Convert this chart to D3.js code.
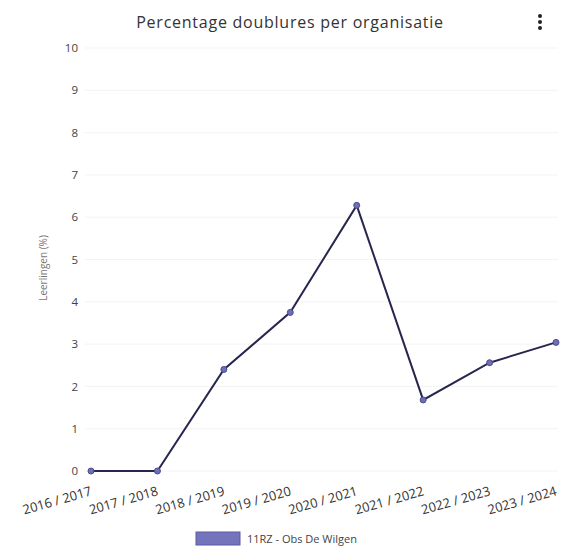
<!DOCTYPE html>
<html><head><meta charset="utf-8">
<script src="https://cdn.jsdelivr.net/npm/d3@7"></script>
<style>body{margin:0;background:#fff;font-family:"Open Sans",sans-serif;}</style>
</head><body><svg id="c" width="568" height="546"></svg>
<script>
const categories = ["2016 / 2017","2017 / 2018","2018 / 2019","2019 / 2020","2020 / 2021","2021 / 2022","2022 / 2023","2023 / 2024"];
const values = [0, 0, 2.4, 3.75, 6.28, 1.68, 2.56, 3.04];
const yTicks = [0,1,2,3,4,5,6,7,8,9,10];
const seriesName = "11RZ - Obs De Wilgen";
const title = "Percentage doublures per organisatie";
const yTitle = "Leerlingen (%)";

const svg = d3.select("#c");
const x = d3.scalePoint().domain(categories).range([91, 556]);
const y = d3.scaleLinear().domain([0, 10]).range([471, 48]);

// gridlines
svg.append("g").selectAll("line").data(yTicks).join("line")
  .attr("x1", 85).attr("x2", 558).attr("y1", d => y(d)).attr("y2", d => y(d))
  .attr("stroke", "#f3f3f3").attr("stroke-width", 1);

// y axis
const yAxis = svg.append("g").attr("transform", "translate(84,0)")
  .call(d3.axisLeft(y).tickValues(yTicks).tickSize(0).tickPadding(6));
yAxis.select(".domain").remove();
yAxis.selectAll("text").attr("font-family", "'Open Sans',sans-serif").attr("font-size", 11.5).attr("fill", "#444");

svg.append("text").attr("transform", "translate(47,268) rotate(-90)")
  .attr("text-anchor", "middle").attr("font-size", 10).attr("fill", "#777").text(yTitle);

// x axis
const xAxis = svg.append("g").attr("transform", "translate(0,476)")
  .call(d3.axisBottom(x).tickSize(0).tickPadding(0));
xAxis.select(".domain").remove();
xAxis.selectAll("text")
  .attr("font-family", "'Open Sans',sans-serif").attr("font-size", 13).attr("fill", "#333")
  .attr("text-anchor", "end").attr("dy", "0")
  .attr("transform", "translate(1,19) rotate(-16)");

// line
svg.append("path").datum(values)
  .attr("fill", "none").attr("stroke", "#26264f").attr("stroke-width", 2)
  .attr("d", d3.line().x((d, i) => x(categories[i])).y(d => y(d)));

svg.append("g").selectAll("circle").data(values).join("circle")
  .attr("cx", (d, i) => x(categories[i])).attr("cy", d => y(d)).attr("r", 3)
  .attr("fill", "#6f6fb3").attr("stroke", "#4a4a90").attr("stroke-width", 1);

// title
svg.append("text").attr("x", 290).attr("y", 28).attr("text-anchor", "middle")
  .attr("font-size", 16).attr("letter-spacing", 0.75).attr("fill", "#333").text(title);

// menu dots
svg.append("g").selectAll("circle").data([0,1,2]).join("circle")
  .attr("cx", 540).attr("cy", d => 16 + d * 6).attr("r", 2).attr("fill", "#222");

// legend
svg.append("rect").attr("x", 196).attr("y", 532).attr("width", 44).attr("height", 13)
  .attr("fill", "#7474bc").attr("stroke", "#5a5aa5");
svg.append("text").attr("x", 247).attr("y", 543).attr("font-size", 11).attr("fill", "#444").text(seriesName);
</script></body></html>
